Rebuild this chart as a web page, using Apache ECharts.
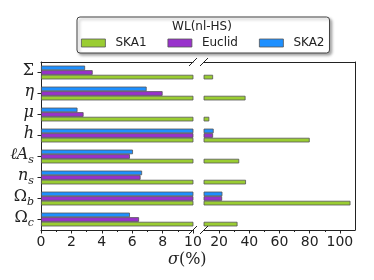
<!DOCTYPE html>
<html>
<head>
<meta charset="utf-8">
<script src="https://cdn.jsdelivr.net/npm/echarts@6/dist/echarts.min.js"></script>
<style>
html,body{margin:0;padding:0;background:#fff;}
#c{width:374px;height:280px;}
</style>
</head>
<body>
<div id="c"></div>
<script>
// ---- data (bottom to top) ----
var categories = ['Omega_c', 'Omega_b', 'n_s', 'lA_s', 'h', 'mu', 'eta', 'Sigma'];
var categoryLabels = [
  '{u|Ω}{s|c}', '{u|Ω}{s|b}', '{i|n}{s|s}', '{i|ℓA}{s|s}', '{i|h}', '{i|μ}', '{i|η}', '{u|Σ}'
];
var seriesNames = ['SKA1', 'Euclid', 'SKA2'];
var SKA1 = [32.2, 107, 37.8, 33.3, 80, 13.5, 37.5, 16];
var Euclid = [6.45, 22, 6.55, 5.85, 16, 2.8, 8.0, 3.4];
var SKA2 = [5.85, 22.2, 6.65, 6.05, 16.4, 2.4, 6.95, 2.9];
var colors = ['#9ACD32', '#9932CC', '#1E90FF'];
var rightMajorTicks = [20, 40, 60, 80, 100];
var rightMinorTicks = [30, 50, 70, 90];

// ---- layout ----
var G0 = {left: 41, top: 62, width: 152, height: 168};
var G1 = {left: 204, top: 62, width: 151, height: 168};
var axisColor = '#222';
var tickFont = {fontFamily: 'DejaVu Sans', fontSize: 14, color: '#222'};
var serif = 'DejaVu Serif';

var values = [SKA1, Euclid, SKA2];
var series = [];
// ECharts places horizontal-bar groups top-down in series order, so add SKA2 first
[0, 1].forEach(function (g) {
  [2, 1, 0].forEach(function (k) {
    series.push({
      type: 'bar',
      name: seriesNames[k],
      xAxisIndex: g,
      yAxisIndex: g,
      data: values[k],
      barWidth: 4.6,
      barGap: '0%',
      clip: true,
      itemStyle: {color: colors[k], borderColor: '#555', borderWidth: 0.8}
    });
  });
});

function breakMark(x, y) {
  return {
    type: 'line', silent: true, z: 100,
    shape: {x1: x - 4, y1: y + 4, x2: x + 4, y2: y - 4},
    style: {stroke: '#222', lineWidth: 1}
  };
}
var xL = G0.left + G0.width, xR = G1.left, yT = G0.top, yB = G0.top + G0.height;

var chart = echarts.init(document.getElementById('c'), null, {renderer: 'canvas'});
chart.setOption({
  animation: false,
  backgroundColor: '#fff',
  title: {
    text: 'WL(nl-HS)', left: 202, top: 21, textAlign: 'center', padding: 0, z: 20,
    textStyle: {fontFamily: 'DejaVu Sans', fontSize: 12, fontWeight: 'normal', color: '#222'}
  },
  legend: {
    data: seriesNames,
    left: 77, top: 17,
    padding: [20, 5, 4, 4],
    itemWidth: 24, itemHeight: 8, itemGap: 21,
    icon: 'rect',
    backgroundColor: '#fff',
    borderColor: '#444', borderWidth: 1, borderRadius: 3,
    shadowColor: 'rgba(0,0,0,0.35)', shadowBlur: 3, shadowOffsetX: 2, shadowOffsetY: 2,
    textStyle: {fontFamily: 'DejaVu Sans', fontSize: 12, color: '#222', padding: [0, 0, 0, 5]},
    itemStyle: {borderColor: '#555', borderWidth: 0.8}
  },
  grid: [G0, G1],
  xAxis: [
    {
      gridIndex: 0, type: 'value', position: 'bottom', min: 0, max: 10, interval: 2,
      axisLine: {show: true, lineStyle: {color: axisColor, width: 1}},
      axisTick: {show: true, length: 3.5, lineStyle: {color: axisColor}},
      minorTick: {show: true, splitNumber: 2, length: 2, lineStyle: {color: axisColor}},
      axisLabel: Object.assign({margin: 5, showMinLabel: true, showMaxLabel: true}, tickFont),
      splitLine: {show: false}
    },
    {
      gridIndex: 1, type: 'value', position: 'bottom', min: 10, max: 110,
      axisLine: {show: true, lineStyle: {color: axisColor, width: 1}},
      axisTick: {show: true, length: 3.5, customValues: rightMajorTicks, lineStyle: {color: axisColor}},
      axisLabel: Object.assign({margin: 5, customValues: rightMajorTicks}, tickFont),
      splitLine: {show: false}
    },
    {
      gridIndex: 1, type: 'value', position: 'bottom', min: 10, max: 110,
      axisLine: {show: false},
      axisTick: {show: true, length: 2, customValues: rightMinorTicks, lineStyle: {color: axisColor}},
      axisLabel: {show: false},
      splitLine: {show: false}
    },
    {
      gridIndex: 0, type: 'value', position: 'top', min: 0, max: 10,
      axisLine: {show: true, lineStyle: {color: axisColor, width: 1}},
      axisTick: {show: false}, axisLabel: {show: false}, splitLine: {show: false}
    },
    {
      gridIndex: 1, type: 'value', position: 'top', min: 10, max: 110,
      axisLine: {show: true, lineStyle: {color: axisColor, width: 1}},
      axisTick: {show: false}, axisLabel: {show: false}, splitLine: {show: false}
    }
  ],
  yAxis: [
    {
      gridIndex: 0, type: 'category', position: 'left', data: categories,
      axisLine: {show: true, lineStyle: {color: axisColor, width: 1}},
      axisTick: {show: true, alignWithLabel: true, length: 3.5, lineStyle: {color: axisColor}},
      axisLabel: {
        margin: 7,
        formatter: function (v, i) { return categoryLabels[i]; },
        rich: {
          u: {fontFamily: serif, fontSize: 16, color: '#222', padding: [0, 0, 3, 0], verticalAlign: 'bottom'},
          i: {fontFamily: serif, fontSize: 16, fontStyle: 'italic', color: '#222', padding: [0, 0, 3, 0], verticalAlign: 'bottom'},
          s: {fontFamily: serif, fontSize: 11, fontStyle: 'italic', color: '#222', verticalAlign: 'bottom'}
        }
      },
      splitLine: {show: false}
    },
    {
      gridIndex: 1, type: 'category', position: 'right', data: categories,
      axisLine: {show: true, lineStyle: {color: axisColor, width: 1}},
      axisTick: {show: false}, axisLabel: {show: false}, splitLine: {show: false}
    }
  ],
  graphic: [
    breakMark(xL, yT), breakMark(xR, yT), breakMark(xL, yB), breakMark(xR, yB),
    {
      type: 'text', left: 168, top: 252, silent: true,
      style: {
        text: '{i|σ}{u|(%)}',
        rich: {
          i: {fontFamily: serif, fontStyle: 'italic', fontSize: 16, fill: '#222'},
          u: {fontFamily: serif, fontSize: 16, fill: '#222'}
        }
      }
    }
  ],
  series: series
});
</script>
</body>
</html>
